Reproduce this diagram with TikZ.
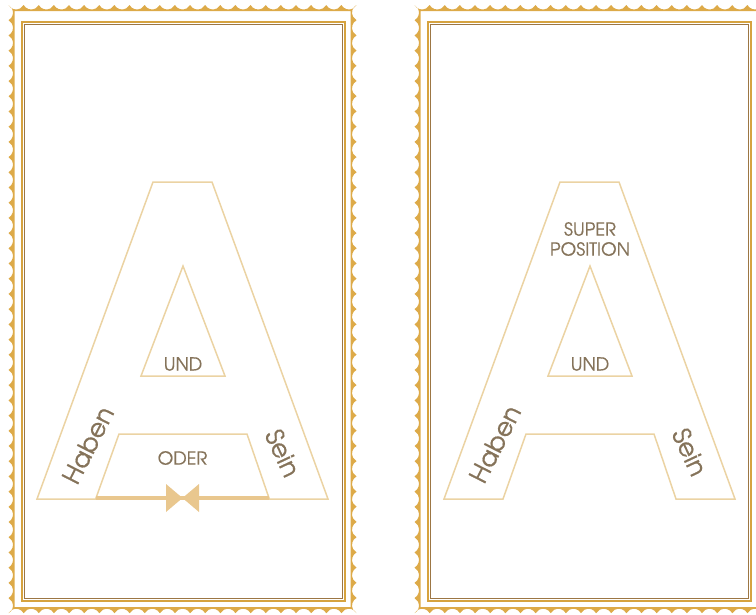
\documentclass[tikz,border=0pt]{standalone}
\usepackage{fontspec}
\newfontfamily\gothic[FakeBold=0.6]{texgyreadventor-regular.otf}
\definecolor{stampgold}{HTML}{DDAA48}
\definecolor{framegold}{HTML}{D6A33F}
\definecolor{framebrown}{HTML}{9C7644}
\definecolor{aline}{HTML}{EBD3A3}
\definecolor{barcol}{HTML}{E9C78E}
\definecolor{txt}{HTML}{85735A}
\tikzset{
  scallop/.style={fill=stampgold, draw=none, even odd rule},
  frameo/.style={draw=framegold, line width=1.3pt},
  framei/.style={draw=framebrown, line width=1.3pt},
  aoutline/.style={draw=aline, line width=1.5pt, line join=miter},
  small/.style={text=txt, font=\gothic\fontsize{18}{20}\selectfont, inner sep=0pt, align=center},
  big/.style={text=txt, font=\gothic\fontsize{25}{28}\selectfont, inner sep=0pt},
  bowtie/.style={fill=barcol, draw=none},
}
\newcommand\stampframe{%
  \fill[scallop] (8.5,5)
    \foreach \i in {1,...,23}{ arc[start angle=151.5, end angle=28.5, radius=8.61] }
    \foreach \i in {1,...,40}{ arc[start angle=241.3, end angle=118.7, radius=8.668] }
    \foreach \i in {1,...,23}{ arc[start angle=331.5, end angle=208.5, radius=8.61] }
    \foreach \i in {1,...,40}{ arc[start angle=61.3, end angle=-61.3, radius=8.668] }
    -- cycle
    (14.5,11) rectangle (350.5,607);
  \draw[frameo] (22,22) rectangle (345,601);
  \draw[framei] (24.5,24.5) rectangle (342.5,598.5);
}
\begin{document}
\begin{tikzpicture}[x=1pt,y=-1pt]
\useasboundingbox (0,0) rectangle (756,614);
\clip (0,0) rectangle (756,614);
% stamps
\stampframe
\begin{scope}[xshift=406pt]
\stampframe
\end{scope}
% left A
\draw[aoutline] (37,499) -- (153,182) -- (212,182) -- (328,499) -- cycle;
\draw[aoutline] (141,376) -- (183,266) -- (225,376) -- cycle;
\draw[aoutline] (96,498) -- (119,434) -- (247,434) -- (269,498) -- cycle;
\draw[draw=barcol, line width=4pt] (96,497.5) -- (269,497.5);
\fill[bowtie] (166,484) -- (182.5,498) -- (166,512) -- cycle;
\fill[bowtie] (199,484) -- (182.5,498) -- (199,512) -- cycle;
\node[small] (und1) at (183,364) {UND};
\node[small] (oder) at (182.5,458) {ODER};
\node[big, rotate=63] (haben1) at (88,445) {Haben};
\node[big, rotate=-65] (sein1) at (283,453) {Sein};
% right A
\draw[aoutline] (444,499) -- (560,182) -- (619,182) -- (735,499) -- (676,499)
  -- (654,434) -- (526,434) -- (503,499) -- cycle;
\draw[aoutline] (548,376) -- (590,266) -- (632,376) -- cycle;
\node[small] (super) at (590,239) {SUPER\\POSITION};
\node[small] (und2) at (590,364) {UND};
\node[big, rotate=63] (haben2) at (495,444) {Haben};
\node[big, rotate=-65] (sein2) at (690,452) {Sein};
\end{tikzpicture}
\end{document}
